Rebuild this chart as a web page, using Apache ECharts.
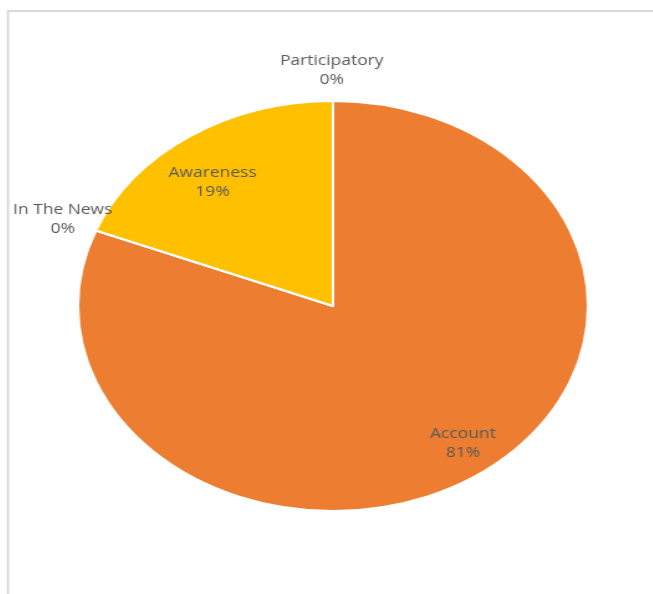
<!DOCTYPE html>
<html>
<head>
<meta charset="utf-8">
<script src="https://cdn.jsdelivr.net/npm/echarts@6/dist/echarts.min.js"></script>
<style>
  html, body { margin: 0; padding: 0; background: #ffffff; }
  #wrap { position: relative; width: 653px; height: 594px; overflow: hidden; }
  #chart { position: absolute; left: 0; top: 0; width: 653px; height: 594px;
           transform-origin: 333px 306px; transform: scaleX(1.2439); }
</style>
</head>
<body>
<div id="wrap"><div id="chart"></div></div>
<script>
// ---- data ----
const categories = ['Account', 'In The News', 'Awareness', 'Participatory'];
const values = [81, 0, 19, 0];

// ---- styling ----
const colors = ['#ED7D31', '#A5A5A5', '#FFC000', '#5B9BD5'];
const CX = 333, CY = 306, R = 205;
const labelRadiusFactor = { 'Account': 0.837, 'Awareness': 0.771, 'In The News': 1.14, 'Participatory': 1.146 };
const labelNudge = { 'Account': [8, -4], 'Awareness': [-8, 7], 'In The News': [0, 0], 'Participatory': [-1, -1] };

const pieData = categories.map((c, i) => ({
  name: c, value: values[i], itemStyle: { color: colors[i] }
}));

const chart = echarts.init(document.getElementById('chart'), null, { renderer: 'canvas' });
chart.setOption({
  animation: false,
  graphic: [{
    type: 'rect',
    shape: { x: 71.7, y: 11, width: 700, height: 620 },
    style: { fill: 'none', stroke: '#d9d9d9', lineWidth: 1.8 },
    silent: true
  }],
  series: [{
    type: 'pie',
    center: [CX, CY],
    radius: R,
    startAngle: 90,
    clockwise: true,
    silent: true,
    avoidLabelOverlap: false,
    itemStyle: { borderColor: '#ffffff', borderWidth: 2 },
    label: {
      show: true,
      position: 'outside',
      formatter: p => p.name + '\n' + Math.round(p.percent) + '%',
      fontFamily: 'Open Sans',
      fontSize: 14,
      lineHeight: 19,
      color: '#595959',
      align: 'center'
    },
    labelLine: { show: true, length: 10, length2: 5, lineStyle: { opacity: 0, width: 0 } },
    labelLayout: function (params) {
      const pts = params.labelLinePoints;
      if (!pts) return {};
      const name = categories[params.dataIndex];
      const f = labelRadiusFactor[name];
      const n = labelNudge[name];
      return {
        x: CX + (pts[0][0] - CX) * f + n[0],
        y: CY + (pts[0][1] - CY) * f + n[1],
        align: 'center',
        verticalAlign: 'middle'
      };
    },
    data: pieData
  }]
});
</script>
</body>
</html>
